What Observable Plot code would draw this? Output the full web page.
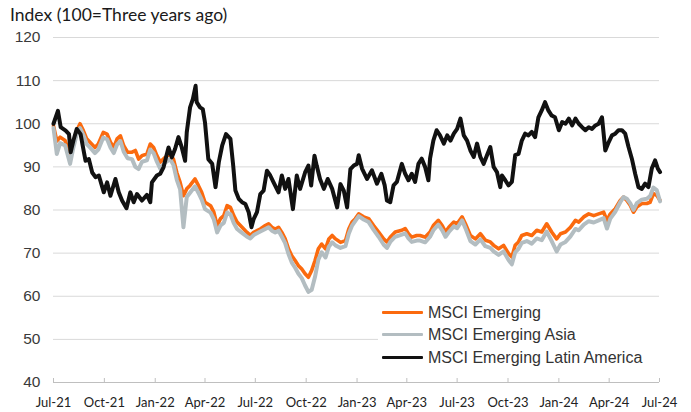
<!DOCTYPE html>
<html><head><meta charset="utf-8">
<script src="https://cdn.jsdelivr.net/npm/d3@7"></script>
<script src="https://cdn.jsdelivr.net/npm/@observablehq/plot@0.6"></script>
<style>
html,body{margin:0;padding:0;background:#fff;}
#wrap{position:relative;width:691px;height:412px;overflow:hidden;background:#fff;}
#chart{position:absolute;left:0;top:0;}
#title{position:absolute;left:10px;top:4px;font-family:Lato,"Open Sans",sans-serif;font-size:17.5px;color:#1a1a1a;white-space:nowrap;}
#legend{position:absolute;left:378px;top:301px;width:282px;height:70px;background:#fff;font-family:"Liberation Sans",Arial,sans-serif;font-size:16px;color:#333;}
.row{position:absolute;left:4px;height:20px;display:flex;align-items:center;white-space:nowrap;}
.sw{width:41px;height:3.5px;margin-right:5px;border-radius:1px;}
</style></head>
<body>
<div id="wrap"><div id="chart"></div><div id="title"></div><div id="legend"></div></div>
<script>
const titleText = "Index (100=Three years ago)";
const seriesNames = ["MSCI Emerging", "MSCI Emerging Asia", "MSCI Emerging Latin America"];
const seriesColors = ["#fb6a0e", "#b3bdc1", "#111111"];
const yTicks = [40, 50, 60, 70, 80, 90, 100, 110, 120];
const xTickDates = ["2021-07-01","2021-10-01","2022-01-01","2022-04-01","2022-07-01","2022-10-01","2023-01-01","2023-04-01","2023-07-01","2023-10-01","2024-01-01","2024-04-01","2024-07-01"];
const xTickLabels = ["Jul-21","Oct-21","Jan-22","Apr-22","Jul-22","Oct-22","Jan-23","Apr-23","Jul-23","Oct-23","Jan-24","Apr-24","Jul-24"];

// MSCI Emerging and MSCI Emerging Asia share these dates
const emDates = ["2021-07-01","2021-07-07","2021-07-13","2021-07-22","2021-07-31","2021-08-06","2021-08-12","2021-08-18","2021-08-24","2021-08-30","2021-09-05","2021-09-14","2021-09-20","2021-09-29","2021-10-06","2021-10-12","2021-10-18","2021-10-24","2021-10-30","2021-11-05","2021-11-12","2021-11-20","2021-11-26","2021-12-02","2021-12-08","2021-12-17","2021-12-23","2021-12-29","2022-01-04","2022-01-10","2022-01-19","2022-01-28","2022-02-03","2022-02-09","2022-02-15","2022-02-21","2022-02-27","2022-03-05","2022-03-14","2022-03-20","2022-03-26","2022-04-01","2022-04-11","2022-04-17","2022-04-23","2022-04-29","2022-05-05","2022-05-11","2022-05-17","2022-05-23","2022-05-29","2022-06-04","2022-06-10","2022-06-16","2022-06-22","2022-06-28","2022-07-04","2022-07-10","2022-07-19","2022-07-25","2022-07-31","2022-08-06","2022-08-12","2022-08-18","2022-08-24","2022-08-30","2022-09-05","2022-09-11","2022-09-17","2022-09-23","2022-09-29","2022-10-05","2022-10-11","2022-10-17","2022-10-23","2022-10-29","2022-11-05","2022-11-11","2022-11-17","2022-11-23","2022-12-02","2022-12-11","2022-12-17","2022-12-23","2022-12-29",
"2023-01-04","2023-01-13","2023-01-22","2023-01-31","2023-02-09","2023-02-18","2023-02-24","2023-03-02","2023-03-11","2023-03-23","2023-03-29","2023-04-04","2023-04-10","2023-04-19","2023-04-25","2023-05-04","2023-05-13","2023-05-19","2023-05-28","2023-06-04","2023-06-10","2023-06-16","2023-06-25","2023-07-01","2023-07-10","2023-07-16","2023-07-25","2023-08-03","2023-08-12","2023-08-21","2023-08-30","2023-09-05","2023-09-14","2023-09-23","2023-10-02","2023-10-08","2023-10-14","2023-10-20","2023-10-26","2023-11-04","2023-11-13","2023-11-22","2023-12-01","2023-12-10","2023-12-19","2023-12-28","2024-01-04","2024-01-13","2024-01-22","2024-01-31","2024-02-06","2024-02-15","2024-02-24","2024-03-04","2024-03-13","2024-03-22","2024-03-28","2024-04-03","2024-04-12","2024-04-21","2024-04-27","2024-05-03","2024-05-09","2024-05-15","2024-05-21","2024-05-30","2024-06-08","2024-06-14","2024-06-20","2024-06-26","2024-07-02"];

const emValues = [99.5,96,96.9,96.1,92.6,95.7,98.4,100,98.4,96.5,95.7,94.5,95.3,98,97.6,95.7,94.5,96.5,97.2,94.9,93.4,93.4,93.8,91.8,92.6,93,95.3,94.5,92.6,91.1,92.2,93,91.8,88.7,86.4,83.3,84.9,85.7,87.2,85.7,84.1,81.8,81,79.5,76.4,78,78.7,81,80.6,78.7,77.2,76.4,75.6,74.8,74.1,74.8,75.2,75.6,76.4,76.8,76,75.6,76,74.8,73.3,71,69.4,68.3,67.1,66.3,65.2,64.4,66,68.3,71,72.1,71,73.3,74.1,73.3,72.5,72.9,75.6,77.2,78,
79.1,78.4,78,76.4,74.9,73.3,72.6,73.7,74.9,75.3,75.7,74.5,73.7,74.1,74.1,73.7,74.9,76.4,77.6,76.4,74.9,76,77.2,76.8,78.4,76.8,74.1,73.3,74.5,73,72.6,71.8,71,71.8,69.9,69.1,71.8,72.6,74.1,74.5,74.1,75.3,74.9,76.8,74.9,73.3,74.5,74.9,76,77.6,77.2,78.4,79.1,78.7,79.1,79.5,77.6,79.1,80.3,82.2,83,82.2,81.1,79.5,80.7,81.5,81.5,81.8,83.8,83.4,82.2];

const asiaValues = [99,93,95.5,95,90.7,94.5,97.5,99,97.4,95.3,94.5,93.2,94,96.8,96.4,94.5,93.2,95.2,96,93.5,92,91.8,90,89.5,91.2,91.5,94,93.2,91.2,89.6,91,91.8,90.4,87,84.8,76,83,84,85.5,84,82.4,80.2,79.4,77.8,74.8,76.4,77,79.4,79,77,75.6,75,74.4,73.8,73.4,74.2,74.6,75,75.6,76,75.2,74.8,75.2,73.8,72.3,69.8,67.8,66.6,65.2,64.2,62.5,61,61.5,64.5,68.5,70.2,69,71.5,72.5,71.8,71.2,71.6,74.5,76.4,77.5,
78.6,77.8,77.2,75.4,73.8,72,71.2,72.6,73.8,74.3,74.6,73.4,72.6,72.9,72.9,72.5,73.8,75.3,76.6,75.3,73.8,74.9,76.2,75.8,77.6,75.8,72.8,72,73.2,71.6,71.2,70.4,69.6,70.4,68.4,67.4,70.2,71,72.4,72.8,72.2,73.4,73,75,72.8,70.4,72,72.6,73.9,75.6,75.3,76.6,77.4,77.1,77.6,78.1,75.7,78,79.6,81.8,83,82.6,81.6,80,81.6,82.4,82.6,83.2,85.2,84.6,82];

const latamDates = ["2021-07-01","2021-07-09","2021-07-14","2021-07-23","2021-07-29","2021-08-01","2021-08-06","2021-08-12","2021-08-19","2021-08-25","2021-08-28","2021-09-03","2021-09-09","2021-09-15","2021-09-21","2021-09-30","2021-10-06","2021-10-12","2021-10-21","2021-10-27","2021-11-02","2021-11-10","2021-11-17","2021-11-23","2021-11-29","2021-12-08","2021-12-17","2021-12-23","2021-12-26","2022-01-04","2022-01-10","2022-01-16","2022-01-25","2022-01-31","2022-02-06","2022-02-12","2022-02-18","2022-02-24","2022-02-27","2022-03-05","2022-03-10","2022-03-15","2022-03-17","2022-03-23","2022-03-28","2022-04-01","2022-04-07","2022-04-14","2022-04-20","2022-04-26","2022-05-02","2022-05-09","2022-05-17","2022-05-22","2022-05-26","2022-06-01","2022-06-07","2022-06-13","2022-06-19","2022-06-24","2022-06-28","2022-07-04","2022-07-10","2022-07-16","2022-07-22","2022-07-28","2022-08-03","2022-08-12","2022-08-18","2022-08-24","2022-08-30","2022-09-07","2022-09-14","2022-09-20","2022-09-29","2022-10-05","2022-10-10","2022-10-16","2022-10-20","2022-10-26","2022-11-02","2022-11-09","2022-11-17","2022-11-26","2022-12-02","2022-12-08","2022-12-14","2022-12-20","2022-12-26","2023-01-01",
"2023-01-04","2023-01-10","2023-01-19","2023-01-28","2023-02-06","2023-02-14","2023-02-20","2023-02-24","2023-03-02","2023-03-08","2023-03-14","2023-03-23","2023-03-29","2023-04-04","2023-04-10","2023-04-16","2023-04-22","2023-04-28","2023-05-04","2023-05-10","2023-05-13","2023-05-19","2023-05-25","2023-05-31","2023-06-07","2023-06-13","2023-06-19","2023-06-25","2023-07-01","2023-07-07","2023-07-13","2023-07-19","2023-07-25","2023-07-31","2023-08-06","2023-08-12","2023-08-18","2023-08-24","2023-08-30","2023-09-05","2023-09-11","2023-09-17","2023-09-20","2023-09-26","2023-10-02","2023-10-08","2023-10-14","2023-10-20","2023-10-26","2023-11-01","2023-11-07","2023-11-13","2023-11-19","2023-11-25","2023-12-01","2023-12-07","2023-12-13","2023-12-19","2023-12-25","2024-01-01","2024-01-07","2024-01-13","2024-01-19","2024-01-25","2024-01-31","2024-02-06","2024-02-12","2024-02-18","2024-02-24","2024-03-01","2024-03-07","2024-03-13","2024-03-19","2024-03-25","2024-03-31","2024-04-06","2024-04-12","2024-04-18","2024-04-24","2024-04-30","2024-05-06","2024-05-12","2024-05-18","2024-05-24","2024-05-30","2024-06-05","2024-06-11","2024-06-17","2024-06-23","2024-06-28","2024-07-02"];

const latamValues = [100,103,99.2,98.4,97.6,93.4,96.1,98.8,97.6,93.4,91.4,91.8,88.7,87.6,88,84.1,86.4,83.3,87.2,84.1,82.2,80.4,84.1,81.8,83.7,82.2,83.5,81.8,86.4,88,88.4,89.9,94.5,92.2,94.2,96.9,94.5,91.4,98,103.8,105.7,108.8,105,103.8,103.4,100.3,91.8,90.7,85.3,91.1,94.9,97.6,96.5,90.3,84.5,82.6,81.8,81.4,79.5,76,77.9,79.5,83.7,84.5,89.1,88,86.4,84.1,88,84.9,87.2,80.2,88,84.9,88.7,90.3,85.7,92.6,90.3,87.2,84.9,87.2,84.9,80.6,86,84.5,80.6,89.5,90.3,90.7,
92.7,89.6,87.2,89.2,86.1,88.4,85.7,82.2,81.8,85.7,86.5,90.7,88.4,86.9,88.4,86.5,90.7,91.9,90,86.9,91.9,96.1,98.5,97.3,95.4,97.3,96.1,97.7,98.8,101.2,97.3,96.1,93.8,92.3,95.4,92.3,90.7,92.7,94.6,90,88.8,85.3,88,86.9,85.7,86.5,92.7,93,96.1,97.7,97.3,98.1,96.9,101.5,103.1,105,103.1,101.9,101.5,98.5,100.4,100,101.2,99.6,101.2,100,99.2,98.5,99.2,98.8,99.6,100,101.5,93.8,95.7,97.3,97.7,98.5,98.5,97.7,94.6,91.9,88.4,85.3,84.9,86.1,85.3,89.6,91.5,89.6,88.8];

const parse = d3.utcParse("%Y-%m-%d");
const xTicks = xTickDates.map(parse);
const em = emDates.map((d, i) => ({date: parse(d), value: emValues[i]}));
const asia = emDates.map((d, i) => ({date: parse(d), value: asiaValues[i]}));
const latam = latamDates.map((d, i) => ({date: parse(d), value: latamValues[i]}));
const yMin = yTicks[0], yMax = yTicks[yTicks.length - 1];

const chart = Plot.plot({
  width: 691, height: 412,
  marginTop: 37, marginBottom: 30, marginLeft: 53, marginRight: 32,
  x: {type: "utc", domain: [xTicks[0], xTicks[xTicks.length - 1]]},
  y: {domain: [yMin, yMax]},
  style: {background: "#fff", fontFamily: "Liberation Sans, Arial, sans-serif", overflow: "visible"},
  marks: [
    Plot.gridY(yTicks.slice(1), {stroke: "#d9d9d9", strokeOpacity: 1, strokeWidth: 1}),
    Plot.axisY({ticks: yTicks, tickSize: 0, tickPadding: 13, fontSize: 15.5, fill: "#3a3a3a", label: null, fontFamily: "Liberation Sans, Arial, sans-serif"}),
    Plot.ruleY([yMin], {stroke: "#bfbfbf"}),
    Plot.ruleX(xTicks, {x: d => d, y1: yMin, y2: yMin, insetTop: -4, stroke: "#bfbfbf"}),
    Plot.axisX({ticks: xTicks, tickSize: 0, tickPadding: 15, fontSize: 13, fill: "#222", label: null,
      fontFamily: "Lato, sans-serif",
      tickFormat: d => xTickLabels[xTicks.findIndex(t => +t === +d)]}),
    Plot.lineY(em, {x: "date", y: "value", stroke: seriesColors[0], strokeWidth: 3.6}),
    Plot.lineY(asia, {x: "date", y: "value", stroke: seriesColors[1], strokeWidth: 4}),
    Plot.lineY(latam, {x: "date", y: "value", stroke: seriesColors[2], strokeWidth: 4})
  ]
});
document.getElementById("chart").appendChild(chart);
document.getElementById("title").textContent = titleText;

const legend = document.getElementById("legend");
const rowTops = [1.5, 23.5, 46.5];
seriesNames.forEach((name, i) => {
  const row = document.createElement("div");
  row.className = "row";
  row.style.top = rowTops[i] + "px";
  const sw = document.createElement("div");
  sw.className = "sw";
  sw.style.background = seriesColors[i];
  const label = document.createElement("span");
  label.textContent = name;
  row.appendChild(sw);
  row.appendChild(label);
  legend.appendChild(row);
});
</script>
</body></html>
